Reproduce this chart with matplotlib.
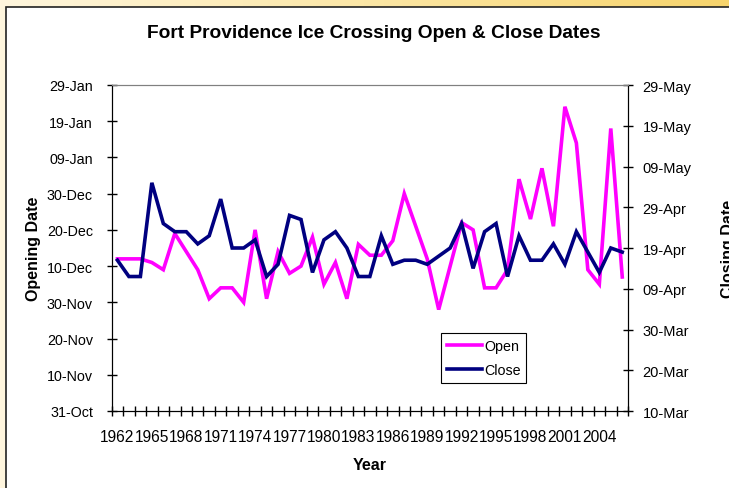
import numpy as np
import pandas as pd
import matplotlib
matplotlib.use("Agg")
import matplotlib.pyplot as plt
import matplotlib.dates as mdates
from matplotlib.patches import Rectangle
from matplotlib.colors import LinearSegmentedColormap

plt.rcParams["font.family"] = ["Liberation Sans", "DejaVu Sans"]

# ---- data ------------------------------------------------------------------
years = list(range(1962, 2007))

# opening date of the ice crossing (month-day, Nov..Jan season)
open_dates = [
    "12-12", "12-12", "12-12", "12-11", "12-09", "12-19", "12-14", "12-09",
    "12-01", "12-04", "12-04", "11-30", "12-20", "12-01", "12-14", "12-08",
    "12-10", "12-18", "12-05", "12-11", "12-01", "12-16", "12-13", "12-13",
    "12-17", "12-30", "12-21", "12-12", "11-28", "12-10", "12-22", "12-20",
    "12-04", "12-04", "12-09", "01-03", "12-23", "01-06", "12-21", "01-23",
    "01-13", "12-09", "12-05", "01-17", "12-07",
]

# closing date of the ice crossing (month-day, spring)
close_dates = [
    "04-16", "04-12", "04-12", "05-05", "04-25", "04-23", "04-23", "04-20",
    "04-22", "05-01", "04-19", "04-19", "04-21", "04-12", "04-15", "04-27",
    "04-26", "04-13", "04-21", "04-23", "04-19", "04-12", "04-12", "04-22",
    "04-15", "04-16", "04-16", "04-15", "04-17", "04-19", "04-25", "04-14",
    "04-23", "04-25", "04-12", "04-22", "04-16", "04-16", "04-20", "04-15",
    "04-23", "04-18", "04-13", "04-19", "04-18",
]

open_ticks = pd.date_range("1999-10-31", periods=10, freq="10D")
close_ticks = pd.date_range("2000-03-10", periods=9, freq="10D")


def season_date(md, autumn_year=1999):
    m, d = (int(v) for v in md.split("-"))
    y = autumn_year if m >= 10 else autumn_year + 1
    return mdates.date2num(pd.Timestamp(y, m, d))


open_num = [season_date(s) for s in open_dates]
close_num = [season_date(s) for s in close_dates]
x = np.arange(len(years))

# ---- figure -----------------------------------------------------------------
W, H = 729, 489
fig = plt.figure(figsize=(W / 100, H / 100), dpi=100)

# yellow frame behind the white chart area
bg = fig.add_axes([0, 0, 1, 1], zorder=-10)
cmap = LinearSegmentedColormap.from_list("frame", ["#FFF6DE", "#FCE7A6", "#F7D46C"])
gx = np.linspace(0, 1, 256)
bg.imshow(np.tile(gx, (8, 1)), aspect="auto", cmap=cmap, extent=[0, 1, 0, 1])
bg.add_patch(Rectangle((6 / W, -0.01), 1.0, 1 - 8 / H + 0.01,
                       facecolor="white", edgecolor="#222222", lw=1.2,
                       transform=bg.transAxes))
bg.set_xlim(0, 1)
bg.set_ylim(0, 1)
bg.axis("off")

left, right, top, bottom = 111.7, 628, 86, 412
ax = fig.add_axes([left / W, 1 - bottom / H, (right - left) / W, (bottom - top) / H])
ax.patch.set_alpha(0)
ax2 = ax.twinx()

l_open, = ax.plot(x, open_num, color="#FF00FF", lw=2.6, label="Open",
                  solid_joinstyle="miter")
l_close, = ax2.plot(x, close_num, color="#000080", lw=2.6, label="Close",
                    solid_joinstyle="miter")

ax.set_xlim(-0.5, len(years) - 0.5)
ax.set_ylim(mdates.date2num(open_ticks[0]), mdates.date2num(open_ticks[-1]))
ax2.set_ylim(mdates.date2num(close_ticks[0]), mdates.date2num(close_ticks[-1]))

ax.set_yticks(mdates.date2num(open_ticks))
ax.set_yticklabels([d.strftime("%d-%b") for d in open_ticks])
ax2.set_yticks(mdates.date2num(close_ticks))
ax2.set_yticklabels([d.strftime("%d-%b") for d in close_ticks])

ax.set_xticks(x[::3])
ax.set_xticklabels([str(y) for y in years[::3]])
ax.set_xticks(np.arange(-0.5, len(years), 1.0), minor=True)
ax.tick_params(axis="x", which="major", length=0, pad=13, labelsize=11.2)
ax.tick_params(axis="x", which="minor", direction="inout", length=7, width=1)
ax.tick_params(axis="y", direction="inout", length=7, width=1, pad=10,
               labelsize=10.3)
ax2.tick_params(axis="y", direction="inout", length=7, width=1, pad=7,
                labelsize=10.5)

for a in (ax, ax2):
    a.spines["top"].set_color("#808080")
    a.spines["left"].set_color("black")
    a.spines["bottom"].set_color("black")
    a.spines["right"].set_color("black")

ax.set_ylabel("Opening Date", fontweight="bold", fontsize=11.5, labelpad=4)
ax.set_xlabel("Year", fontweight="bold", fontsize=11.5, labelpad=9)
fig.text(721 / W, 1 - 249 / H, "Closing Date", rotation=90, fontweight="bold",
         fontsize=11.5, ha="left", va="center")

fig.text(374 / W, 1 - 34 / H, "Fort Providence Ice Crossing Open & Close Dates",
         fontweight="bold", fontsize=13.8, ha="center", va="center")

leg = ax2.legend([l_open, l_close], ["Open", "Close"], loc="upper left",
                 bbox_to_anchor=((441 - left) / (right - left),
                                 (bottom - 334) / (bottom - top)),
                 borderaxespad=0, fancybox=False, framealpha=1,
                 edgecolor="black", fontsize=10.3, handlelength=2.5,
                 handletextpad=0.1, borderpad=0.4, labelspacing=0.75)
leg.get_frame().set_linewidth(0.8)

fig.savefig("out.png", dpi=100)
